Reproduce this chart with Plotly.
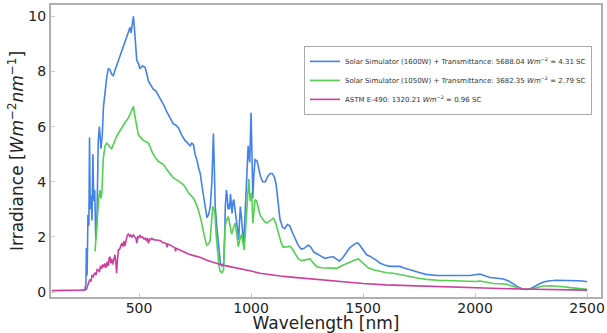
import plotly.graph_objects as go

# ---- data ----
blue_wl = [250,258,263,265,268,272,276,279,282,286,290,294,298,302,307,312,318,323,330,336,341,350,356,363,370,378,385,395,408,420,430,442,452,460,464,470,475,479,482,486,490,497,504,515,527,535,542,553,564,575,586,601,612,623,638,653,665,676,690,705,718,728,735,743,750,758,766,773,780,788,795,803,810,818,825,832,836,840,848,855,860,863,870,878,882,885,890,893,897,900,904,908,912,915,920,923,930,935,940,945,948,952,956,960,964,967,972,979,983,987,991,994,997,1000,1004,1008,1012,1018,1027,1035,1042,1052,1064,1075,1086,1095,1105,1112,1120,1129,1140,1150,1162,1173,1185,1195,1210,1225,1240,1255,1265,1280,1292,1310,1330,1350,1367,1380,1394,1410,1426,1440,1456,1470,1479,1494,1505,1516,1530,1545,1560,1575,1595,1620,1640,1664,1680,1710,1730,1754,1780,1799,1830,1888,1940,1978,2000,2022,2040,2067,2100,2126,2150,2171,2195,2215,2230,2245,2265,2290,2310,2335,2365,2393,2420,2455,2480,2500]
blue_val = [0.05,0.08,0.3,1.6,0.6,2.8,2.4,5.6,3.0,3.5,2.6,5.0,3.3,3.7,1.9,2.6,5.5,6.0,5.2,5.7,6.7,7.5,7.8,8.1,8.07,7.9,7.85,8.1,8.4,8.7,8.9,9.2,9.45,9.6,9.4,9.8,10.0,9.6,9.3,8.7,8.4,8.3,8.1,8.2,8.15,7.9,7.65,7.5,7.35,7.3,7.15,6.9,6.75,6.55,6.3,6.1,6.05,5.95,5.7,5.5,5.4,5.3,5.4,5.35,5.0,4.8,4.5,4.3,3.9,3.5,3.0,2.7,2.8,3.1,4.0,5.75,4.5,3.1,2.3,1.65,1.2,1.05,0.95,1.05,2.0,3.1,3.7,3.5,3.0,3.2,3.0,3.55,3.2,2.85,3.3,3.35,2.9,2.6,2.2,1.9,2.5,3.1,2.8,2.37,2.0,1.7,2.6,3.8,4.5,5.3,4.9,4.7,5.6,6.5,5.0,3.4,4.2,4.8,4.75,4.4,4.2,4.0,4.0,4.2,4.3,4.3,4.15,3.9,3.4,2.65,2.35,2.3,2.45,2.4,2.15,1.95,1.7,1.55,1.6,1.7,1.65,1.45,1.4,1.3,1.22,1.26,1.28,1.2,1.12,1.25,1.45,1.6,1.7,1.78,1.77,1.6,1.45,1.35,1.3,1.23,1.15,1.05,0.98,0.93,0.93,0.93,0.88,0.8,0.74,0.7,0.64,0.62,0.6,0.6,0.6,0.6,0.63,0.65,0.6,0.53,0.5,0.47,0.4,0.29,0.17,0.1,0.09,0.11,0.2,0.31,0.37,0.41,0.43,0.43,0.42,0.41,0.4,0.37]

green_wl = [300,304,310,316,320,326,330,334,340,348,355,362,370,378,388,400,415,430,442,452,460,467,475,480,486,491,497,508,519,530,542,550,557,570,586,598,609,623,638,652,668,683,698,710,720,732,743,755,765,777,787,795,802,810,817,823,829,834,838,845,850,856,862,870,877,881,884,890,895,899,906,914,922,929,936,943,950,958,964,969,975,981,985,990,996,1003,1008,1012,1018,1025,1032,1040,1048,1060,1070,1085,1100,1110,1122,1134,1144,1159,1174,1185,1196,1211,1226,1245,1263,1278,1293,1315,1338,1360,1383,1405,1427,1445,1464,1479,1490,1502,1524,1550,1576,1605,1635,1665,1695,1725,1754,1784,1813,1843,1873,1933,1963,2000,2022,2050,2082,2111,2141,2165,2186,2210,2230,2260,2285,2305,2340,2365,2395,2424,2460,2500]
green_val = [1.5,1.5,2.2,3.0,3.4,3.7,3.4,3.6,4.8,5.3,5.4,5.35,5.25,5.2,5.4,5.65,5.85,6.07,6.2,6.3,6.45,6.6,6.73,6.45,6.13,5.9,5.7,5.6,5.5,5.45,5.4,5.25,5.1,4.9,4.74,4.68,4.62,4.45,4.3,4.15,4.07,3.98,3.9,3.75,3.6,3.5,3.4,3.2,2.98,2.6,2.13,1.9,1.7,1.75,1.85,2.4,3.1,3.0,2.9,2.0,1.53,1.0,0.75,0.7,0.8,1.6,2.37,2.6,2.7,2.73,2.4,2.1,2.35,2.5,2.1,1.65,1.9,2.1,1.8,1.53,2.2,2.87,3.6,4.1,3.3,3.6,2.5,2.9,3.35,3.3,3.0,2.8,2.7,2.55,2.5,2.6,2.68,2.5,2.13,1.8,1.62,1.65,1.66,1.55,1.4,1.2,1.14,1.18,1.2,1.05,0.92,0.88,0.87,0.88,0.86,0.95,1.04,1.1,1.16,1.2,1.12,1.04,0.87,0.8,0.74,0.7,0.68,0.63,0.6,0.55,0.49,0.46,0.43,0.42,0.42,0.4,0.38,0.38,0.4,0.35,0.31,0.3,0.28,0.22,0.17,0.11,0.1,0.12,0.18,0.22,0.23,0.22,0.19,0.16,0.13,0.1]

pink_wl = [110,150,200,240,258,265,270,274,280,285,290,296,302,308,313,318,323,328,333,338,343,348,353,358,363,367,370,374,378,382,385,390,393,397,400,403,408,413,418,423,428,432,437,442,447,452,458,463,469,475,480,486,490,494,499,504,510,516,522,527,532,537,542,547,552,557,565,575,585,594,605,615,622,625,628,640,652,660,663,666,680,700,720,740,772,800,830,862,900,951,1000,1040,1080,1129,1180,1249,1300,1400,1500,1600,1700,1800,1933,2000,2111,2260,2400,2500]
pink_val = [0.05,0.05,0.06,0.07,0.08,0.1,0.22,0.31,0.45,0.38,0.6,0.56,0.7,0.62,0.82,0.8,0.72,0.95,0.85,1.0,0.9,1.04,0.88,1.1,0.95,1.25,1.28,1.05,1.2,1.0,1.1,1.3,1.35,1.0,0.68,1.1,1.53,1.55,1.7,1.77,1.65,1.85,1.67,1.95,2.05,2.1,2.02,2.08,1.98,2.07,2.0,1.95,1.77,2.0,1.97,2.05,1.98,2.0,1.92,1.95,1.88,1.95,1.77,1.92,1.9,1.95,1.9,1.9,1.88,1.87,1.8,1.78,1.75,1.62,1.74,1.7,1.63,1.6,1.48,1.58,1.53,1.45,1.38,1.33,1.26,1.16,1.08,1.0,0.93,0.85,0.76,0.68,0.63,0.58,0.54,0.49,0.44,0.36,0.31,0.26,0.23,0.2,0.16,0.15,0.13,0.1,0.08,0.07]

x_ticks = [500, 1000, 1500, 2000, 2500]
y_ticks = [0, 2, 4, 6, 8, 10]

names = [
    "Solar Simulator (1600W) + Transmittance: 5688.04 <i>Wm</i><sup>−2</sup> = 4.31 SC",
    "Solar Simulator (1050W) + Transmittance: 3682.35 <i>Wm</i><sup>−2</sup> = 2.79 SC",
    "ASTM E-490: 1320.21 <i>Wm</i><sup>−2</sup> = 0.96 SC",
]
colors = ["#4382e8", "#52d052", "#cc3f9e"]

fig = go.Figure()
for wl, val, nm, c in [(blue_wl, blue_val, names[0], colors[0]),
                       (green_wl, green_val, names[1], colors[1]),
                       (pink_wl, pink_val, names[2], colors[2])]:
    fig.add_trace(go.Scatter(x=wl, y=val, mode="lines", name=nm,
                             line=dict(color=c, width=1.6)))

font = "DejaVu Sans, sans-serif"
fig.update_layout(
    width=607, height=333,
    margin=dict(l=51, r=6, t=5, b=36, autoexpand=False),
    paper_bgcolor="white", plot_bgcolor="white",
    font=dict(family=font, color="#222222"),
    showlegend=True,
    legend=dict(x=0.46, y=0.86, xanchor="left", yanchor="top",
                bgcolor="white", bordercolor="#aaaaaa", borderwidth=1,
                font=dict(size=7, family=font, color="#333333"),
                tracegroupgap=0, itemwidth=30),
)
fig.update_xaxes(range=[107, 2562], tickvals=x_ticks, showgrid=False, zeroline=False,
                 automargin=False,
                 showline=True, linecolor="#b0b0b0", linewidth=2, mirror=True,
                 ticks="inside", ticklen=4, tickcolor="#cccccc",
                 ticklabelstandoff=-3,
                 tickfont=dict(size=14, family=font, color="#222222"),
                 title=dict(text="Wavelength [nm]", font=dict(size=17, family=font, color="#222222"), standoff=1))
fig.update_yaxes(range=[-0.18, 10.41], tickvals=y_ticks, showgrid=False, zeroline=False,
                 automargin=False,
                 showline=True, linecolor="#b0b0b0", linewidth=2, mirror=True,
                 ticks="inside", ticklen=4, tickcolor="#cccccc",
                 tickfont=dict(size=14, family=font, color="#222222"),
                 title=dict(text="Irradiance [<i>Wm</i><sup>−2</sup><i>nm</i><sup>−1</sup>]",
                            font=dict(size=17, family=font, color="#222222"), standoff=0))

fig.write_html("out.html", config={"displayModeBar": False},
               post_script="document.body.style.margin='0px';document.body.style.padding='0px';")
